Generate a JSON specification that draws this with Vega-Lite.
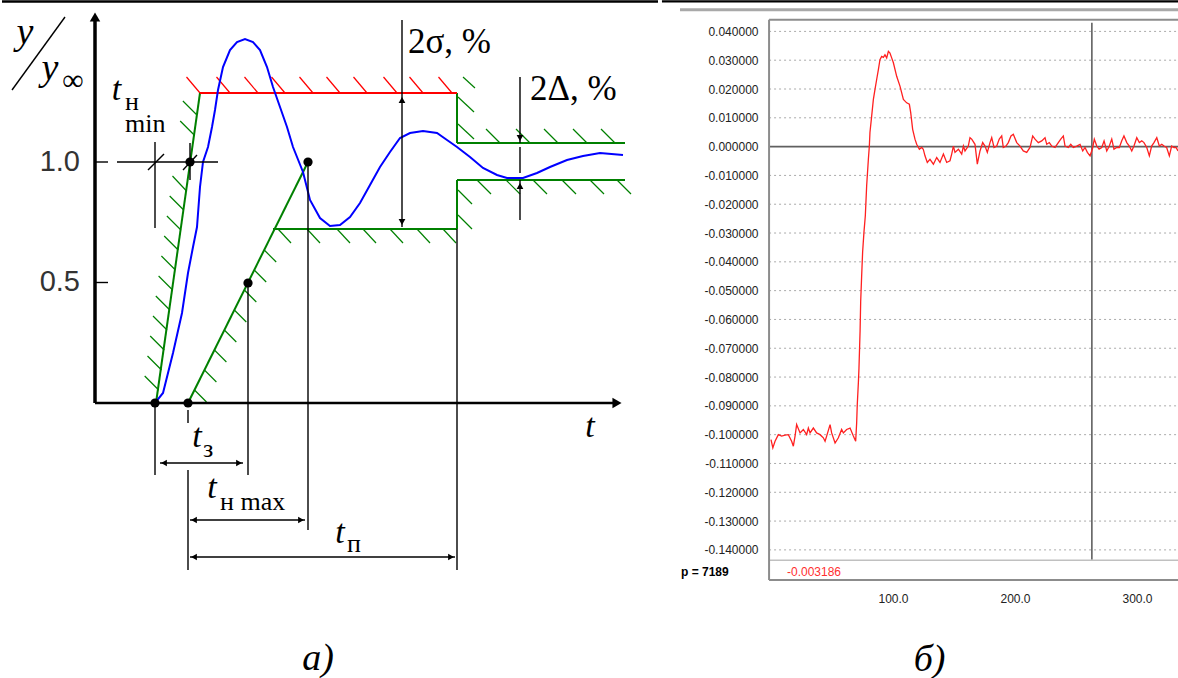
{
"$schema": "https://vega.github.io/schema/vega-lite/v6.json",
"padding": 0,
"spacing": 0,
"background": "white",
"config": {"view": {"stroke": null}},
"datasets": {
"L_segs": [
{"x":-1.86,"y":1.666,"x2":11.26,"y2":1.666,"kind":"top"},
{"x":0,"y":0,"x2":0,"y2":1.6017,"kind":"axisY"},
{"x":0,"y":0,"x2":10.44,"y2":0,"kind":"axisX"},
{"x":0,"y":1,"x2":0.26,"y2":1,"kind":"thin"},
{"x":0,"y":0.5,"x2":0.26,"y2":0.5,"kind":"thin"},
{"x":0.44,"y":1,"x2":2.46,"y2":1,"kind":"thin"},
{"x":1.2,"y":1.083,"x2":1.2,"y2":0.7261,"kind":"thin"},
{"x":1.9,"y":1.0788,"x2":1.9,"y2":0.9253,"kind":"thin"},
{"x":1.06,"y":0.9668,"x2":1.38,"y2":1.0332,"kind":"thin"},
{"x":1.76,"y":0.9668,"x2":2.04,"y2":1.029,"kind":"thin"},
{"x":1.2,"y":0,"x2":1.2,"y2":-0.2988,"kind":"thin"},
{"x":1.86,"y":-0.029,"x2":1.86,"y2":-0.083,"kind":"thin"},
{"x":1.86,"y":-0.278,"x2":1.86,"y2":-0.6929,"kind":"thin"},
{"x":3.06,"y":0.4979,"x2":3.06,"y2":-0.2988,"kind":"thin"},
{"x":4.26,"y":1,"x2":4.26,"y2":-0.527,"kind":"thin"},
{"x":7.24,"y":0.722,"x2":7.24,"y2":-0.6929,"kind":"thin"},
{"x":6.14,"y":1.5892,"x2":6.14,"y2":0.73,"kind":"thin"},
{"x":8.5,"y":1.3527,"x2":8.5,"y2":1.0788,"kind":"thin"},
{"x":8.5,"y":1.0622,"x2":8.5,"y2":0.9544,"kind":"thin"},
{"x":8.5,"y":0.9253,"x2":8.5,"y2":0.7593,"kind":"thin"},
{"x":1.3,"y":-0.249,"x2":2.96,"y2":-0.249,"kind":"thin"},
{"x":1.9,"y":-0.4855,"x2":4.2,"y2":-0.4855,"kind":"thin"},
{"x":1.9,"y":-0.639,"x2":7.2,"y2":-0.639,"kind":"thin"},
{"x":-1.66,"y":1.2988,"x2":-0.6,"y2":1.6017,"kind":"thin"},
{"x":2.1,"y":1.2863,"x2":7.24,"y2":1.2863,"kind":"red"},
{"x":1.83,"y":1.3527,"x2":2.1,"y2":1.2863,"kind":"redHatch"},
{"x":2.43,"y":1.3527,"x2":2.7,"y2":1.2863,"kind":"redHatch"},
{"x":2.99,"y":1.3527,"x2":3.26,"y2":1.2863,"kind":"redHatch"},
{"x":3.53,"y":1.3527,"x2":3.8,"y2":1.2863,"kind":"redHatch"},
{"x":4.09,"y":1.3527,"x2":4.36,"y2":1.2863,"kind":"redHatch"},
{"x":4.63,"y":1.3527,"x2":4.9,"y2":1.2863,"kind":"redHatch"},
{"x":5.17,"y":1.3527,"x2":5.44,"y2":1.2863,"kind":"redHatch"},
{"x":5.77,"y":1.3527,"x2":6.04,"y2":1.2863,"kind":"redHatch"},
{"x":6.29,"y":1.3527,"x2":6.56,"y2":1.2863,"kind":"redHatch"},
{"x":6.87,"y":1.3527,"x2":7.14,"y2":1.2863,"kind":"redHatch"},
{"x":1.22,"y":0,"x2":2.1,"y2":1.2863,"kind":"green"},
{"x":1.86,"y":0,"x2":4.26,"y2":1,"kind":"green"},
{"x":3.56,"y":0.722,"x2":7.24,"y2":0.722,"kind":"green"},
{"x":7.24,"y":0.722,"x2":7.24,"y2":0.9253,"kind":"green"},
{"x":7.24,"y":0.9253,"x2":10.6,"y2":0.9253,"kind":"green"},
{"x":7.24,"y":1.2863,"x2":7.24,"y2":1.0788,"kind":"green"},
{"x":7.24,"y":1.0788,"x2":10.6,"y2":1.0788,"kind":"green"},
{"x":0.994,"y":0.112,"x2":1.274,"y2":0.0539,"kind":"greenHatch"},
{"x":1.05,"y":0.195,"x2":1.33,"y2":0.1369,"kind":"greenHatch"},
{"x":1.104,"y":0.278,"x2":1.384,"y2":0.2199,"kind":"greenHatch"},
{"x":1.16,"y":0.361,"x2":1.44,"y2":0.3029,"kind":"greenHatch"},
{"x":1.216,"y":0.444,"x2":1.496,"y2":0.3859,"kind":"greenHatch"},
{"x":1.272,"y":0.527,"x2":1.552,"y2":0.4689,"kind":"greenHatch"},
{"x":1.328,"y":0.61,"x2":1.608,"y2":0.5519,"kind":"greenHatch"},
{"x":1.384,"y":0.6929,"x2":1.664,"y2":0.6349,"kind":"greenHatch"},
{"x":1.438,"y":0.7759,"x2":1.718,"y2":0.7178,"kind":"greenHatch"},
{"x":1.494,"y":0.8589,"x2":1.774,"y2":0.8008,"kind":"greenHatch"},
{"x":1.55,"y":0.9419,"x2":1.83,"y2":0.8797,"kind":"greenHatch"},
{"x":1.704,"y":1.1701,"x2":1.984,"y2":1.112,"kind":"greenHatch"},
{"x":1.758,"y":1.2531,"x2":2.038,"y2":1.195,"kind":"greenHatch"},
{"x":1.99,"y":0.0539,"x2":2.23,"y2":0.0041,"kind":"greenHatch"},
{"x":2.188,"y":0.1369,"x2":2.428,"y2":0.0871,"kind":"greenHatch"},
{"x":2.388,"y":0.2199,"x2":2.628,"y2":0.1701,"kind":"greenHatch"},
{"x":2.586,"y":0.3029,"x2":2.826,"y2":0.2531,"kind":"greenHatch"},
{"x":2.786,"y":0.3859,"x2":3.026,"y2":0.3361,"kind":"greenHatch"},
{"x":2.986,"y":0.4689,"x2":3.226,"y2":0.4191,"kind":"greenHatch"},
{"x":3.184,"y":0.5519,"x2":3.424,"y2":0.5021,"kind":"greenHatch"},
{"x":3.384,"y":0.6349,"x2":3.624,"y2":0.5851,"kind":"greenHatch"},
{"x":3.66,"y":0.722,"x2":3.92,"y2":0.6639,"kind":"greenHatch"},
{"x":4.24,"y":0.722,"x2":4.5,"y2":0.6639,"kind":"greenHatch"},
{"x":4.84,"y":0.722,"x2":5.1,"y2":0.6639,"kind":"greenHatch"},
{"x":5.36,"y":0.722,"x2":5.62,"y2":0.6639,"kind":"greenHatch"},
{"x":5.9,"y":0.722,"x2":6.16,"y2":0.6639,"kind":"greenHatch"},
{"x":6.44,"y":0.722,"x2":6.7,"y2":0.6639,"kind":"greenHatch"},
{"x":6.96,"y":0.722,"x2":7.22,"y2":0.6639,"kind":"greenHatch"},
{"x":7.64,"y":0.9253,"x2":7.92,"y2":0.8672,"kind":"greenHatch"},
{"x":8.22,"y":0.9253,"x2":8.5,"y2":0.8672,"kind":"greenHatch"},
{"x":8.76,"y":0.9253,"x2":9.04,"y2":0.8672,"kind":"greenHatch"},
{"x":9.34,"y":0.9253,"x2":9.62,"y2":0.8672,"kind":"greenHatch"},
{"x":9.9,"y":0.9253,"x2":10.18,"y2":0.8672,"kind":"greenHatch"},
{"x":10.44,"y":0.9253,"x2":10.72,"y2":0.8672,"kind":"greenHatch"},
{"x":7.26,"y":0.8838,"x2":7.54,"y2":0.8257,"kind":"greenHatch"},
{"x":7.26,"y":0.7801,"x2":7.54,"y2":0.722,"kind":"greenHatch"},
{"x":7.82,"y":1.1369,"x2":8.1,"y2":1.0788,"kind":"greenHatch"},
{"x":8.42,"y":1.1369,"x2":8.7,"y2":1.0788,"kind":"greenHatch"},
{"x":8.98,"y":1.1369,"x2":9.26,"y2":1.0788,"kind":"greenHatch"},
{"x":9.56,"y":1.1369,"x2":9.84,"y2":1.0788,"kind":"greenHatch"},
{"x":10.12,"y":1.1369,"x2":10.4,"y2":1.0788,"kind":"greenHatch"},
{"x":7.26,"y":1.2697,"x2":7.58,"y2":1.2075,"kind":"greenHatch"},
{"x":7.26,"y":1.1577,"x2":7.58,"y2":1.0954,"kind":"greenHatch"},
{"x":7.36,"y":1.3527,"x2":7.6,"y2":1.3071,"kind":"greenHatch"}
],
"L_blue": [
{"x":0,"y":0},{"x":1.2,"y":0},{"x":1.36,"y":0.0415},{"x":1.56,"y":0.2075},{"x":1.74,"y":0.3734},
{"x":1.86,"y":0.5394},{"x":1.96,"y":0.6473},{"x":2.04,"y":0.7303},{"x":2.1,"y":0.8963},{"x":2.16,"y":1.0},
{"x":2.26,"y":1.0622},{"x":2.34,"y":1.1452},{"x":2.4,"y":1.2158},{"x":2.46,"y":1.2988},{"x":2.56,"y":1.3942},
{"x":2.7,"y":1.4647},{"x":2.84,"y":1.4979},{"x":3.0,"y":1.5104},{"x":3.16,"y":1.4979},{"x":3.3,"y":1.4647},
{"x":3.44,"y":1.3942},{"x":3.56,"y":1.3112},{"x":3.7,"y":1.2282},{"x":3.84,"y":1.1452},{"x":3.96,"y":1.0622},
{"x":4.16,"y":0.9585},{"x":4.3,"y":0.8423},{"x":4.5,"y":0.7676},{"x":4.7,"y":0.7344},{"x":4.9,"y":0.7386},
{"x":5.1,"y":0.7718},{"x":5.3,"y":0.8299},{"x":5.5,"y":0.9046},{"x":5.7,"y":0.9793},{"x":5.9,"y":1.0415},
{"x":6.1,"y":1.0996},{"x":6.3,"y":1.1203},{"x":6.56,"y":1.1286},{"x":6.84,"y":1.1203},{"x":7.04,"y":1.0913},
{"x":7.24,"y":1.0622},{"x":7.5,"y":1.0207},{"x":7.76,"y":0.9751},{"x":8.04,"y":0.9461},{"x":8.24,"y":0.9336},
{"x":8.56,"y":0.9336},{"x":8.84,"y":0.9544},{"x":9.1,"y":0.9793},{"x":9.44,"y":1.0083},{"x":9.76,"y":1.0249},
{"x":10.1,"y":1.0373},{"x":10.56,"y":1.029}
],
"L_arrows": [
{"x":0,"y":1.6017,"dir":"up","kind":"axis"},
{"x":10.44,"y":0,"dir":"right","kind":"axis"},
{"x":6.14,"y":1.2573,"dir":"up","kind":"dim"},
{"x":6.14,"y":0.751,"dir":"down","kind":"dim"},
{"x":8.5,"y":1.0996,"dir":"down","kind":"dim"},
{"x":8.5,"y":0.9004,"dir":"up","kind":"dim"},
{"x":1.38,"y":-0.249,"dir":"left","kind":"dim"},
{"x":2.88,"y":-0.249,"dir":"right","kind":"dim"},
{"x":1.98,"y":-0.4855,"dir":"left","kind":"dim"},
{"x":4.12,"y":-0.4855,"dir":"right","kind":"dim"},
{"x":1.98,"y":-0.639,"dir":"left","kind":"dim"},
{"x":7.12,"y":-0.639,"dir":"right","kind":"dim"}
],
"L_dots": [
{"x":1.2,"y":0},{"x":1.86,"y":0},{"x":1.9,"y":1},{"x":3.06,"y":0.4979},{"x":4.26,"y":1}
],
"L_text": [
{"x":-0.3,"y":1.0,"text":"1.0","role":"tick"},
{"x":-0.3,"y":0.5,"text":"0.5","role":"tick"},
{"x":-1.4,"y":1.4896,"text":"y","role":"yvar"},
{"x":-0.9,"y":1.3402,"text":"y","role":"yvar"},
{"x":-0.44,"y":1.2988,"text":"∞","role":"inf"},
{"x":0.43,"y":1.2573,"text":"t","role":"tvar"},
{"x":2.04,"y":-0.1826,"text":"t","role":"tvar"},
{"x":2.34,"y":-0.3942,"text":"t","role":"tvar"},
{"x":4.9,"y":-0.5809,"text":"t","role":"tvar"},
{"x":9.9,"y":-0.1411,"text":"t","role":"tvar"},
{"x":0.6,"y":1.2158,"text":"н","role":"sub"},
{"x":0.6,"y":1.1245,"text":"min","role":"sub"},
{"x":2.16,"y":-0.2241,"text":"з","role":"sub"},
{"x":2.5,"y":-0.444,"text":"н max","role":"sub"},
{"x":5.04,"y":-0.6183,"text":"п","role":"sub"},
{"x":6.26,"y":1.4523,"text":"2σ, %","role":"dim"},
{"x":8.7,"y":1.2573,"text":"2Δ, %","role":"dim"},
{"x":4.46,"y":-1.1079,"text":"а)","role":"cap"}
],
"R_signal": [
{"t":0,"v":-0.1017},{"t":1.5,"v":-0.1046},{"t":3.3,"v":-0.1023},{"t":6.0,"v":-0.1},{"t":8.7,"v":-0.1005},
{"t":11.5,"v":-0.1002},{"t":14.2,"v":-0.1},{"t":16.9,"v":-0.1023},{"t":18.3,"v":-0.104},{"t":19.7,"v":-0.1005},
{"t":21.0,"v":-0.0965},{"t":23.8,"v":-0.0994},{"t":26.5,"v":-0.0982},{"t":29.2,"v":-0.1},{"t":30.6,"v":-0.0977},
{"t":32.0,"v":-0.0994},{"t":34.7,"v":-0.0977},{"t":37.4,"v":-0.0994},{"t":40.2,"v":-0.1},{"t":42.9,"v":-0.1011},
{"t":44.3,"v":-0.1023},{"t":45.6,"v":-0.1005},{"t":48.4,"v":-0.0965},{"t":49.7,"v":-0.0994},{"t":52.5,"v":-0.1029},
{"t":55.2,"v":-0.1011},{"t":57.9,"v":-0.0982},{"t":59.3,"v":-0.0994},{"t":62.0,"v":-0.0982},{"t":64.8,"v":-0.0977},
{"t":67.5,"v":-0.1005},{"t":69.4,"v":-0.1023},{"t":70.2,"v":-0.0959},{"t":70.7,"v":-0.0896},{"t":71.6,"v":-0.082},
{"t":72.1,"v":-0.0769},{"t":73.0,"v":-0.0641},{"t":73.5,"v":-0.0538},{"t":74.3,"v":-0.0448},{"t":75.1,"v":-0.0365},
{"t":76.2,"v":-0.0296},{"t":77.3,"v":-0.024},{"t":78.4,"v":-0.0136},{"t":79.8,"v":-0.0044},{"t":80.6,"v":0.0002},
{"t":81.1,"v":0.0049},{"t":82.5,"v":0.0106},{"t":83.9,"v":0.0164},{"t":85.2,"v":0.0198},{"t":86.6,"v":0.0233},
{"t":88.0,"v":0.0267},{"t":89.3,"v":0.0302},{"t":90.7,"v":0.0313},{"t":92.1,"v":0.031},{"t":93.4,"v":0.0319},
{"t":94.8,"v":0.0308},{"t":96.2,"v":0.0331},{"t":97.5,"v":0.0325},{"t":98.9,"v":0.0308},{"t":100.3,"v":0.0291},
{"t":103.0,"v":0.0244},{"t":105.7,"v":0.021},{"t":108.5,"v":0.0164},{"t":111.2,"v":0.0152},{"t":113.4,"v":0.0147},
{"t":114.5,"v":0.0118},{"t":116.1,"v":0.006},{"t":118.0,"v":0.0026},{"t":119.4,"v":0.0008},{"t":121.6,"v":-0.0009},
{"t":123.5,"v":-0.0003},{"t":124.8,"v":-0.0009},{"t":126.2,"v":-0.0032},{"t":128.1,"v":-0.0055},{"t":130.3,"v":-0.0044},
{"t":133.1,"v":-0.0061},{"t":135.8,"v":-0.0038},{"t":138.5,"v":-0.0055},{"t":141.3,"v":-0.0026},{"t":144.0,"v":-0.0055},
{"t":146.7,"v":-0.0049},{"t":148.1,"v":-0.0026},{"t":149.5,"v":0.0002},{"t":150.8,"v":-0.002},{"t":153.6,"v":-0.0009},
{"t":156.3,"v":-0.0026},{"t":157.7,"v":0.0002},{"t":159.0,"v":-0.0015},{"t":161.7,"v":0.0002},{"t":163.1,"v":0.0031},
{"t":164.5,"v":0.0026},{"t":167.2,"v":0.0008},{"t":169.1,"v":-0.0061},{"t":171.3,"v":-0.0015},{"t":173.5,"v":0.0014},
{"t":175.4,"v":0.0002},{"t":177.3,"v":-0.002},{"t":179.5,"v":0.0014},{"t":180.9,"v":0.0031},{"t":182.8,"v":-0.0003},
{"t":185.0,"v":0.0002},{"t":187.1,"v":0.0026},{"t":189.1,"v":0.0037},{"t":190.4,"v":-0.0003},{"t":192.6,"v":0.0002},
{"t":194.5,"v":0.0014},{"t":196.7,"v":0.0037},{"t":198.6,"v":0.0043},{"t":201.4,"v":0.0014},{"t":204.1,"v":0.0002},
{"t":206.8,"v":-0.0015},{"t":209.6,"v":-0.002},{"t":212.3,"v":-0.0003},{"t":214.5,"v":0.0037},{"t":216.4,"v":0.0026},
{"t":219.1,"v":0.0014},{"t":221.9,"v":0.002},{"t":224.6,"v":0.0031},{"t":226.0,"v":0.0008},{"t":228.1,"v":0.0014},
{"t":230.1,"v":0.0002},{"t":232.8,"v":-0.0003},{"t":235.5,"v":0.0014},{"t":237.5,"v":0.0026},{"t":239.6,"v":0.0037},
{"t":241.0,"v":0.0002},{"t":243.7,"v":-0.0003},{"t":245.7,"v":0.0008},{"t":247.8,"v":-0.0003},{"t":250.6,"v":0.0002},
{"t":253.3,"v":0.0008},{"t":255.5,"v":-0.0015},{"t":257.4,"v":-0.0003},{"t":259.3,"v":-0.002},{"t":261.5,"v":-0.0032},
{"t":263.4,"v":-0.0009},{"t":265.0,"v":0.0026},{"t":267.0,"v":0.0002},{"t":268.9,"v":-0.0009},{"t":271.1,"v":-0.0003},
{"t":273.0,"v":0.002},{"t":275.2,"v":-0.0015},{"t":277.3,"v":0.0002},{"t":279.3,"v":0.0026},{"t":281.1,"v":-0.0009},
{"t":283.4,"v":-0.0003},{"t":285.5,"v":-0.0003},{"t":287.5,"v":0.002},{"t":289.3,"v":0.0037},{"t":291.6,"v":0.0014},
{"t":293.7,"v":0.0002},{"t":295.7,"v":-0.0015},{"t":297.5,"v":0.0002},{"t":299.8,"v":0.0031},{"t":301.9,"v":0.0014},
{"t":303.9,"v":0.002},{"t":305.7,"v":0.0014},{"t":308.0,"v":-0.0003},{"t":310.1,"v":-0.0032},{"t":312.0,"v":0.0002},
{"t":313.9,"v":0.0014},{"t":316.2,"v":0.0031},{"t":318.3,"v":0.0002},{"t":320.3,"v":0.0008},{"t":322.1,"v":0.0002},
{"t":324.3,"v":-0.0003},{"t":326.5,"v":-0.0032},{"t":328.4,"v":0.0002},{"t":330.3,"v":-0.0003},{"t":332.0,"v":-0.0003},
{"t":333.6,"v":-0.0015}
],
"R_lines": [
{"t":-1.6,"v":-0.14,"t2":333.6,"v2":-0.14,"kind":"grid"},
{"t":-1.6,"v":-0.13,"t2":333.6,"v2":-0.13,"kind":"grid"},
{"t":-1.6,"v":-0.12,"t2":333.6,"v2":-0.12,"kind":"grid"},
{"t":-1.6,"v":-0.11,"t2":333.6,"v2":-0.11,"kind":"grid"},
{"t":-1.6,"v":-0.1,"t2":333.6,"v2":-0.1,"kind":"grid"},
{"t":-1.6,"v":-0.09,"t2":333.6,"v2":-0.09,"kind":"grid"},
{"t":-1.6,"v":-0.08,"t2":333.6,"v2":-0.08,"kind":"grid"},
{"t":-1.6,"v":-0.07,"t2":333.6,"v2":-0.07,"kind":"grid"},
{"t":-1.6,"v":-0.06,"t2":333.6,"v2":-0.06,"kind":"grid"},
{"t":-1.6,"v":-0.05,"t2":333.6,"v2":-0.05,"kind":"grid"},
{"t":-1.6,"v":-0.04,"t2":333.6,"v2":-0.04,"kind":"grid"},
{"t":-1.6,"v":-0.03,"t2":333.6,"v2":-0.03,"kind":"grid"},
{"t":-1.6,"v":-0.02,"t2":333.6,"v2":-0.02,"kind":"grid"},
{"t":-1.6,"v":-0.01,"t2":333.6,"v2":-0.01,"kind":"grid"},
{"t":-1.6,"v":0.01,"t2":333.6,"v2":0.01,"kind":"grid"},
{"t":-1.6,"v":0.02,"t2":333.6,"v2":0.02,"kind":"grid"},
{"t":-1.6,"v":0.03,"t2":333.6,"v2":0.03,"kind":"grid"},
{"t":-1.6,"v":0.04,"t2":333.6,"v2":0.04,"kind":"grid"},
{"t":-1.6,"v":0,"t2":333.6,"v2":0,"kind":"zero"},
{"t":-1.6,"v":-0.1436,"t2":333.6,"v2":-0.1436,"kind":"light"},
{"t":-1.6,"v":0.04402,"t2":-1.6,"v2":-0.1505,"kind":"frame"},
{"t":-1.6,"v":0.04402,"t2":333.6,"v2":0.04402,"kind":"frame"},
{"t":-1.6,"v":-0.1505,"t2":333.6,"v2":-0.1505,"kind":"frame"},
{"t":263,"v":0.043,"t2":263,"v2":-0.1433,"kind":"cursor"},
{"t":-74.6,"v":0.04748,"t2":333.6,"v2":0.04748,"kind":"topGray"},
{"t":-89.4,"v":0.0504,"t2":333.6,"v2":0.0504,"kind":"top"}
],
"R_text": [
{"t":-73.8,"v":-0.1477,"text":"p = 7189","role":"p"},
{"t":13.1,"v":-0.1477,"text":"-0.003186","role":"val"}
]
},
"hconcat": [
{
"width": 660,
"height": 678,
"encoding": {
"x": {"field":"x","type":"quantitative","scale":{"domain":[-1.9,11.3],"nice":false,"zero":false},"axis":null},
"y": {"field":"y","type":"quantitative","scale":{"domain":[-1.1411,1.6722],"nice":false,"zero":false},"axis":null}
},
"layer": [
{"data":{"name":"L_segs"},"transform":[{"filter":"datum.kind === 'greenHatch'"}],"mark":{"type":"rule","color":"#008000","strokeWidth":1.2},"encoding":{"x2":{"field":"x2"},"y2":{"field":"y2"}}},
{"data":{"name":"L_segs"},"transform":[{"filter":"datum.kind === 'redHatch'"}],"mark":{"type":"rule","color":"#ff0000","strokeWidth":1.2},"encoding":{"x2":{"field":"x2"},"y2":{"field":"y2"}}},
{"data":{"name":"L_segs"},"transform":[{"filter":"datum.kind === 'green'"}],"mark":{"type":"rule","color":"#008000","strokeWidth":2}, "encoding":{"x2":{"field":"x2"},"y2":{"field":"y2"}}},
{"data":{"name":"L_segs"},"transform":[{"filter":"datum.kind === 'red'"}],"mark":{"type":"rule","color":"#ff0000","strokeWidth":2},"encoding":{"x2":{"field":"x2"},"y2":{"field":"y2"}}},
{"data":{"name":"L_blue"},"mark":{"type":"line","color":"#0000ff","strokeWidth":2},"encoding":{}},
{"data":{"name":"L_segs"},"transform":[{"filter":"datum.kind === 'thin'"}],"mark":{"type":"rule","color":"#000000","strokeWidth":1.4},"encoding":{"x2":{"field":"x2"},"y2":{"field":"y2"}}},
{"data":{"name":"L_segs"},"transform":[{"filter":"datum.kind === 'axisY'"}],"mark":{"type":"rule","color":"#000000","strokeWidth":3.5},"encoding":{"x2":{"field":"x2"},"y2":{"field":"y2"}}},
{"data":{"name":"L_segs"},"transform":[{"filter":"datum.kind === 'axisX' || datum.kind === 'top'"}],"mark":{"type":"rule","color":"#000000","strokeWidth":2.3},"encoding":{"x2":{"field":"x2"},"y2":{"field":"y2"}}},
{"data":{"name":"L_dots"},"mark":{"type":"circle","color":"#000000","size":85,"opacity":1}},
{"data":{"name":"L_arrows"},"transform":[{"filter":"datum.kind === 'dim'"}],"mark":{"type":"point","filled":true,"color":"#000000","size":45,"opacity":1},"encoding":{"shape":{"field":"dir","type":"nominal","scale":{"domain":["up","down","left","right"],"range":["triangle-up","triangle-down","triangle-left","triangle-right"]},"legend":null}}},
{"data":{"name":"L_arrows"},"transform":[{"filter":"datum.kind === 'axis'"}],"mark":{"type":"point","filled":true,"color":"#000000","size":110,"opacity":1},"encoding":{"shape":{"field":"dir","type":"nominal","scale":{"domain":["up","down","left","right"],"range":["triangle-up","triangle-down","triangle-left","triangle-right"]},"legend":null}}},
{"data":{"name":"L_text"},"transform":[{"filter":"datum.role === 'tick'"}],"mark":{"type":"text","font":"Liberation Sans","fontSize":29,"color":"#333333","align":"right","baseline":"middle"},"encoding":{"text":{"field":"text"}}},
{"data":{"name":"L_text"},"transform":[{"filter":"datum.role === 'yvar'"}],"mark":{"type":"text","font":"Liberation Serif","fontStyle":"italic","fontSize":38,"color":"#000000","align":"center","baseline":"alphabetic"},"encoding":{"text":{"field":"text"}}},
{"data":{"name":"L_text"},"transform":[{"filter":"datum.role === 'inf'"}],"mark":{"type":"text","font":"Liberation Serif","fontSize":30,"color":"#000000","align":"center","baseline":"alphabetic"},"encoding":{"text":{"field":"text"}}},
{"data":{"name":"L_text"},"transform":[{"filter":"datum.role === 'tvar'"}],"mark":{"type":"text","font":"Liberation Serif","fontStyle":"italic","fontSize":34,"color":"#000000","align":"center","baseline":"alphabetic"},"encoding":{"text":{"field":"text"}}},
{"data":{"name":"L_text"},"transform":[{"filter":"datum.role === 'sub'"}],"mark":{"type":"text","font":"Liberation Serif","fontSize":26,"color":"#000000","align":"left","baseline":"alphabetic"},"encoding":{"text":{"field":"text"}}},
{"data":{"name":"L_text"},"transform":[{"filter":"datum.role === 'dim'"}],"mark":{"type":"text","font":"Liberation Serif","fontSize":35,"color":"#000000","align":"left","baseline":"alphabetic"},"encoding":{"text":{"field":"text"}}},
{"data":{"name":"L_text"},"transform":[{"filter":"datum.role === 'cap'"}],"mark":{"type":"text","font":"Liberation Serif","fontStyle":"italic","fontSize":38,"color":"#000000","align":"center","baseline":"alphabetic"},"encoding":{"text":{"field":"text"}}}
]
},
{
"width": 518,
"height": 583,
"encoding": {
"x": {"field":"t","type":"quantitative","scale":{"domain":[-91.0,333.6],"nice":false,"zero":false},
 "axis":{"values":[100,200,300],"format":".1f","domain":false,"ticks":false,"tickSize":0,"grid":false,"labelPadding":10,"labelFont":"Liberation Sans","labelFontSize":12,"labelColor":"#222222","title":"б)","titleFont":"Liberation Serif","titleFontStyle":"italic","titleFontWeight":"normal","titleFontSize":38,"titleColor":"#000000","titleX":269,"titleY":87,"titleBaseline":"alphabetic","titleAlign":"center"}},
"y": {"field":"v","type":"quantitative","scale":{"domain":[-0.1515,0.0509],"nice":false,"zero":false},
 "axis":{"values":[-0.14,-0.13,-0.12,-0.11,-0.1,-0.09,-0.08,-0.07,-0.06,-0.05,-0.04,-0.03,-0.02,-0.01,0,0.01,0.02,0.03,0.04],"labelExpr":"replace(format(datum.value, '.6f'), '−', '-')","domain":false,"ticks":false,"tickSize":0,"grid":false,"offset":-109,"labelPadding":11,"labelFont":"Liberation Sans","labelFontSize":12,"labelColor":"#222222","labelOverlap":false,"labelFlush":false,"title":null}}
},
"layer": [
{"data":{"name":"R_lines"},"transform":[{"filter":"datum.kind === 'grid'"}],"mark":{"type":"rule","color":"#aaaaaa","strokeWidth":1,"strokeDash":[2,3]},"encoding":{"x2":{"field":"t2"},"y2":{"field":"v2"}}},
{"data":{"name":"R_lines"},"transform":[{"filter":"datum.kind === 'light'"}],"mark":{"type":"rule","color":"#c0c0c0","strokeWidth":1.5},"encoding":{"x2":{"field":"t2"},"y2":{"field":"v2"}}},
{"data":{"name":"R_lines"},"transform":[{"filter":"datum.kind === 'zero' || datum.kind === 'cursor'"}],"mark":{"type":"rule","color":"#606060","strokeWidth":1.6},"encoding":{"x2":{"field":"t2"},"y2":{"field":"v2"}}},
{"data":{"name":"R_lines"},"transform":[{"filter":"datum.kind === 'frame'"}],"mark":{"type":"rule","color":"#8c8c8c","strokeWidth":2},"encoding":{"x2":{"field":"t2"},"y2":{"field":"v2"}}},
{"data":{"name":"R_lines"},"transform":[{"filter":"datum.kind === 'topGray'"}],"mark":{"type":"rule","color":"#a8a8a8","strokeWidth":3},"encoding":{"x2":{"field":"t2"},"y2":{"field":"v2"}}},
{"data":{"name":"R_lines"},"transform":[{"filter":"datum.kind === 'top'"}],"mark":{"type":"rule","color":"#000000","strokeWidth":2.3},"encoding":{"x2":{"field":"t2"},"y2":{"field":"v2"}}},
{"data":{"name":"R_signal"},"mark":{"type":"line","color":"#ff2020","strokeWidth":1.3},"encoding":{}},
{"data":{"name":"R_text"},"transform":[{"filter":"datum.role === 'p'"}],"mark":{"type":"text","font":"Liberation Sans","fontSize":12,"fontWeight":"bold","color":"#000000","align":"left","baseline":"middle"},"encoding":{"text":{"field":"text"}}},
{"data":{"name":"R_text"},"transform":[{"filter":"datum.role === 'val'"}],"mark":{"type":"text","font":"Liberation Sans","fontSize":12,"color":"#ff3030","align":"left","baseline":"middle"},"encoding":{"text":{"field":"text"}}}
]
}
]
}
